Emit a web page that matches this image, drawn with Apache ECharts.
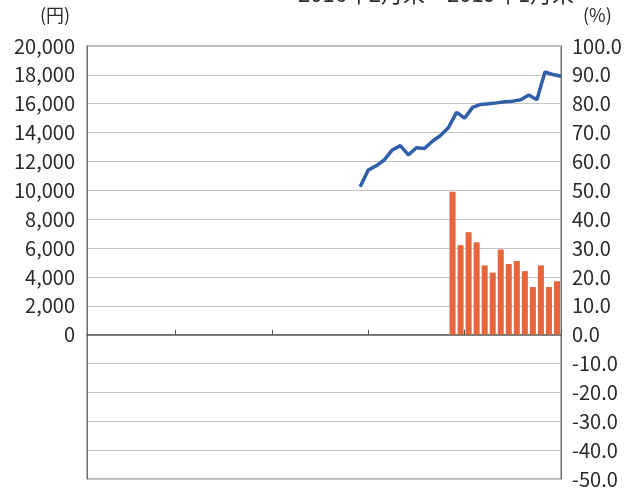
<!DOCTYPE html>
<html>
<head>
<meta charset="utf-8">
<script src="https://cdn.jsdelivr.net/npm/echarts@6/dist/echarts.min.js"></script>
<style>
  html, body { margin: 0; padding: 0; background: #fff; }
  #chart { width: 628px; height: 489px; }
</style>
</head>
<body>
<div id="chart"></div>
<script>
// 月次カテゴリ（棒グラフ用 59 区間、折れ線用 60 点）
const barMonths = Array.from({ length: 59 }, (_, i) => 'm' + i)
const lineMonths = Array.from({ length: 60 }, (_, i) => 'p' + i)

// 折れ線（円）: 34 番目の点から
const lineStart = 34
const priceValues = [
  10250, 11400, 11700, 12100, 12800, 13100, 12450, 12950, 12900, 13400,
  13800, 14350, 15400, 15000, 15750, 15950, 16000, 16060, 16130, 16180,
  16270, 16600, 16270, 18200, 18020, 17900
]

// 棒グラフ（%）: 45 番目の区間から
const barStart = 45
const rateValues = [49.5, 31, 35.5, 32, 24, 21.5, 29.5, 24.5, 25.5, 22, 16.5, 24, 16.5, 18.5]

// 目盛り位置（年の区切り）
const tickIndexes = [11, 23, 35, 47]

const lineData = lineMonths.map((_, i) =>
  i >= lineStart && i - lineStart < priceValues.length ? priceValues[i - lineStart] : null)
const barData = barMonths.map((_, i) =>
  i >= barStart && i - barStart < rateValues.length ? rateValues[i - barStart] : null)

const font = '"Noto Sans CJK JP", "Noto Sans", sans-serif'
const chart = echarts.init(document.getElementById('chart'))

chart.setOption({
  animation: false,
  textStyle: { fontFamily: font },
  grid: {
    left: 87, right: 67, top: 46, bottom: 9,
    show: true, borderColor: '#6e6e6e', borderWidth: 1
  },
  graphic: [
    { type: 'text', left: 298, top: -17,
      style: { text: '2016年2月末～2019年1月末', fontSize: 22, fill: '#2a2a2a', fontFamily: font } },
    { type: 'text', left: 40, top: 6,
      style: { text: '(円)', fontSize: 18, fill: '#2a2a2a', fontFamily: font } },
    { type: 'text', left: 583, top: 6,
      style: { text: '(%)', fontSize: 18, fill: '#2a2a2a', fontFamily: font } }
  ],
  xAxis: [
    {
      type: 'category',
      data: barMonths,
      boundaryGap: true,
      axisLine: { onZero: true, lineStyle: { color: '#555', width: 1.5 } },
      axisTick: {
        show: true, inside: true, length: 5,
        interval: (index) => tickIndexes.includes(index),
        lineStyle: { color: '#555', width: 1 }
      },
      axisLabel: { show: false }
    },
    {
      type: 'category',
      data: lineMonths,
      boundaryGap: false,
      show: false
    }
  ],
  yAxis: [
    {
      type: 'value',
      min: -10000, max: 20000, interval: 2000,
      axisLine: { show: true, lineStyle: { color: '#6e6e6e' } },
      axisTick: { show: false },
      splitLine: { lineStyle: { color: '#c4c4c4', width: 1 } },
      axisLabel: {
        fontSize: 20, color: '#2a2a2a', margin: 12,
        formatter: (v) => (v < 0 ? '' : v.toLocaleString('en-US'))
      }
    },
    {
      type: 'value',
      min: -50, max: 100, interval: 10,
      axisLine: { show: true, lineStyle: { color: '#6e6e6e' } },
      axisTick: { show: false },
      splitLine: { show: false },
      axisLabel: {
        fontSize: 20, color: '#2a2a2a', margin: 11,
        formatter: (v) => v.toFixed(1)
      }
    }
  ],
  series: [
    {
      type: 'bar',
      xAxisIndex: 0,
      yAxisIndex: 1,
      data: barData,
      barWidth: 6,
      itemStyle: { color: '#e8643a' }
    },
    {
      type: 'line',
      xAxisIndex: 1,
      yAxisIndex: 0,
      data: lineData,
      showSymbol: false,
      lineStyle: { color: '#2f5fa9', width: 3.5 },
      z: 5
    }
  ]
})
</script>
</body>
</html>
